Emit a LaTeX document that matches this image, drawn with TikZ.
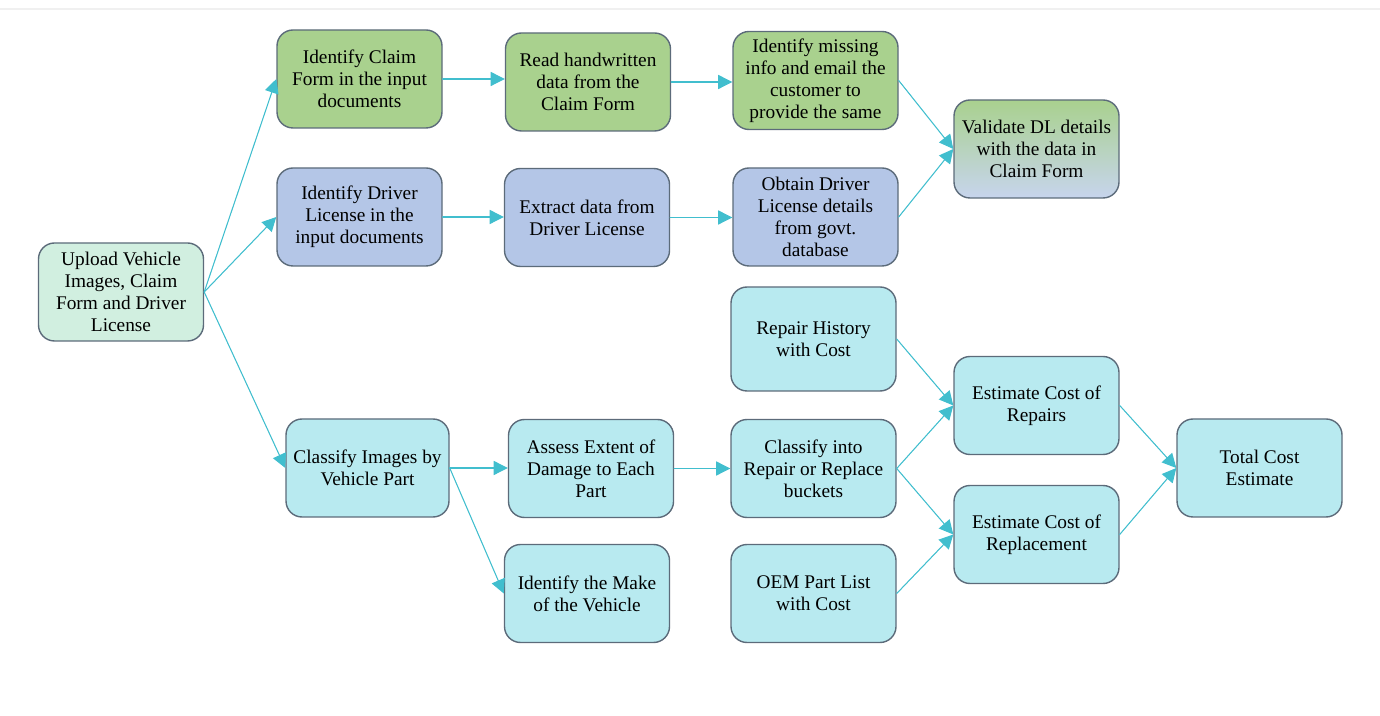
\documentclass[tikz,border=0pt]{standalone}
\usepackage{fontspec}
\setmainfont{Liberation Serif}
\usepackage{tikz}
\usetikzlibrary{arrows.meta,shapes.misc}

\definecolor{stepgreen}{RGB}{169,209,142}
\definecolor{stepblue}{RGB}{180,198,231}
\definecolor{stepcyan}{RGB}{184,234,240}
\definecolor{stepmint}{RGB}{209,239,224}
\definecolor{stepedge}{RGB}{92,107,122}
\definecolor{flowline}{RGB}{65,190,206}

\begin{document}
\begin{tikzpicture}[line cap=round,line join=round,>={Triangle[length=8pt,width=8pt]},x=1.0cm,y=1.0cm,
    box/.style={draw=stepedge,line width=0.8pt,rounded corners=0.32cm,align=center,
        minimum width=3.3cm,minimum height=1.96cm,inner sep=1pt,
        font=\fontsize{11}{12.6}\selectfont},
    greenbox/.style={box,fill=stepgreen},
    bluebox/.style={box,fill=stepblue},
    cyanbox/.style={box,fill=stepcyan},
    flow/.style={->,draw=flowline,fill=flowline,line width=0.6pt}]
        \useasboundingbox (0,0) rectangle (27.6,14.32);
        \fill [color=black!6] (0,14.12) rectangle (27.6,14.16);
        % start
        \node [box,fill=stepmint] (upload) at (2.42,8.48) {Upload Vehicle\\Images, Claim\\Form and Driver\\License};
        % claim form row
        \node [greenbox] (claim) at (7.19,12.74) {Identify Claim\\Form in the input\\documents};
        \node [greenbox] (read) at (11.76,12.68) {Read handwritten\\data from the\\Claim Form};
        \node [greenbox] (missing) at (16.31,12.71) {Identify missing\\info and email the\\customer to\\provide the same};
        % driver license row
        \node [bluebox] (driver) at (7.19,9.98) {Identify Driver\\License in the\\input documents};
        \node [bluebox] (extract) at (11.74,9.97) {Extract data from\\Driver License};
        \node [bluebox] (obtain) at (16.31,9.98) {Obtain Driver\\License details\\from govt.\\database};
        \node [box,top color=stepgreen,middle color=stepblue!85!stepgreen,bottom color=stepblue!75!white] (validate) at (20.73,11.34) {Validate DL details\\with the data in\\Claim Form};
        % vehicle images
        \node [cyanbox,minimum width=3.26cm] (classimg) at (7.35,4.96) {Classify Images by\\Vehicle Part};
        \node [cyanbox] (assess) at (11.82,4.95) {Assess Extent of\\Damage to Each\\Part};
        \node [cyanbox] (make) at (11.74,2.45) {Identify the Make\\of the Vehicle};
        \node [cyanbox,minimum height=2.08cm] (history) at (16.27,7.54) {Repair History\\with Cost};
        \node [cyanbox] (bucket) at (16.27,4.95) {Classify into\\Repair or Replace\\buckets};
        \node [cyanbox] (oem) at (16.27,2.45) {OEM Part List\\with Cost};
        \node [cyanbox] (repairs) at (20.73,6.21) {Estimate Cost of\\Repairs};
        \node [cyanbox] (replace) at (20.73,3.63) {Estimate Cost of\\Replacement};
        \node [cyanbox] (total) at (25.19,4.96) {Total Cost\\Estimate};
        % connectors
        \draw [flow] (upload.east) -- (claim.west);
        \draw [flow] (upload.east) -- (driver.west);
        \draw [flow] (upload.east) -- (classimg.west);
        \draw [flow] (claim.east) -- (claim.east -| read.west);
        \draw [flow] (read.east) -- (read.east -| missing.west);
        \draw [flow] (driver.east) -- (driver.east -| extract.west);
        \draw [flow] (extract.east) -- (extract.east -| obtain.west);
        \draw [flow] (missing.east) -- (validate.west);
        \draw [flow] (obtain.east) -- (validate.west);
        \draw [flow] (classimg.east) -- (classimg.east -| assess.west);
        \draw [flow] (classimg.east) -- (make.west);
        \draw [flow] (assess.east) -- (assess.east -| bucket.west);
        \draw [flow] (history.east) -- (repairs.west);
        \draw [flow] (bucket.east) -- (repairs.west);
        \draw [flow] (bucket.east) -- (replace.west);
        \draw [flow] (oem.east) -- (replace.west);
        \draw [flow] (repairs.east) -- (total.west);
        \draw [flow] (replace.east) -- (total.west);
    \end{tikzpicture}
\end{document}
